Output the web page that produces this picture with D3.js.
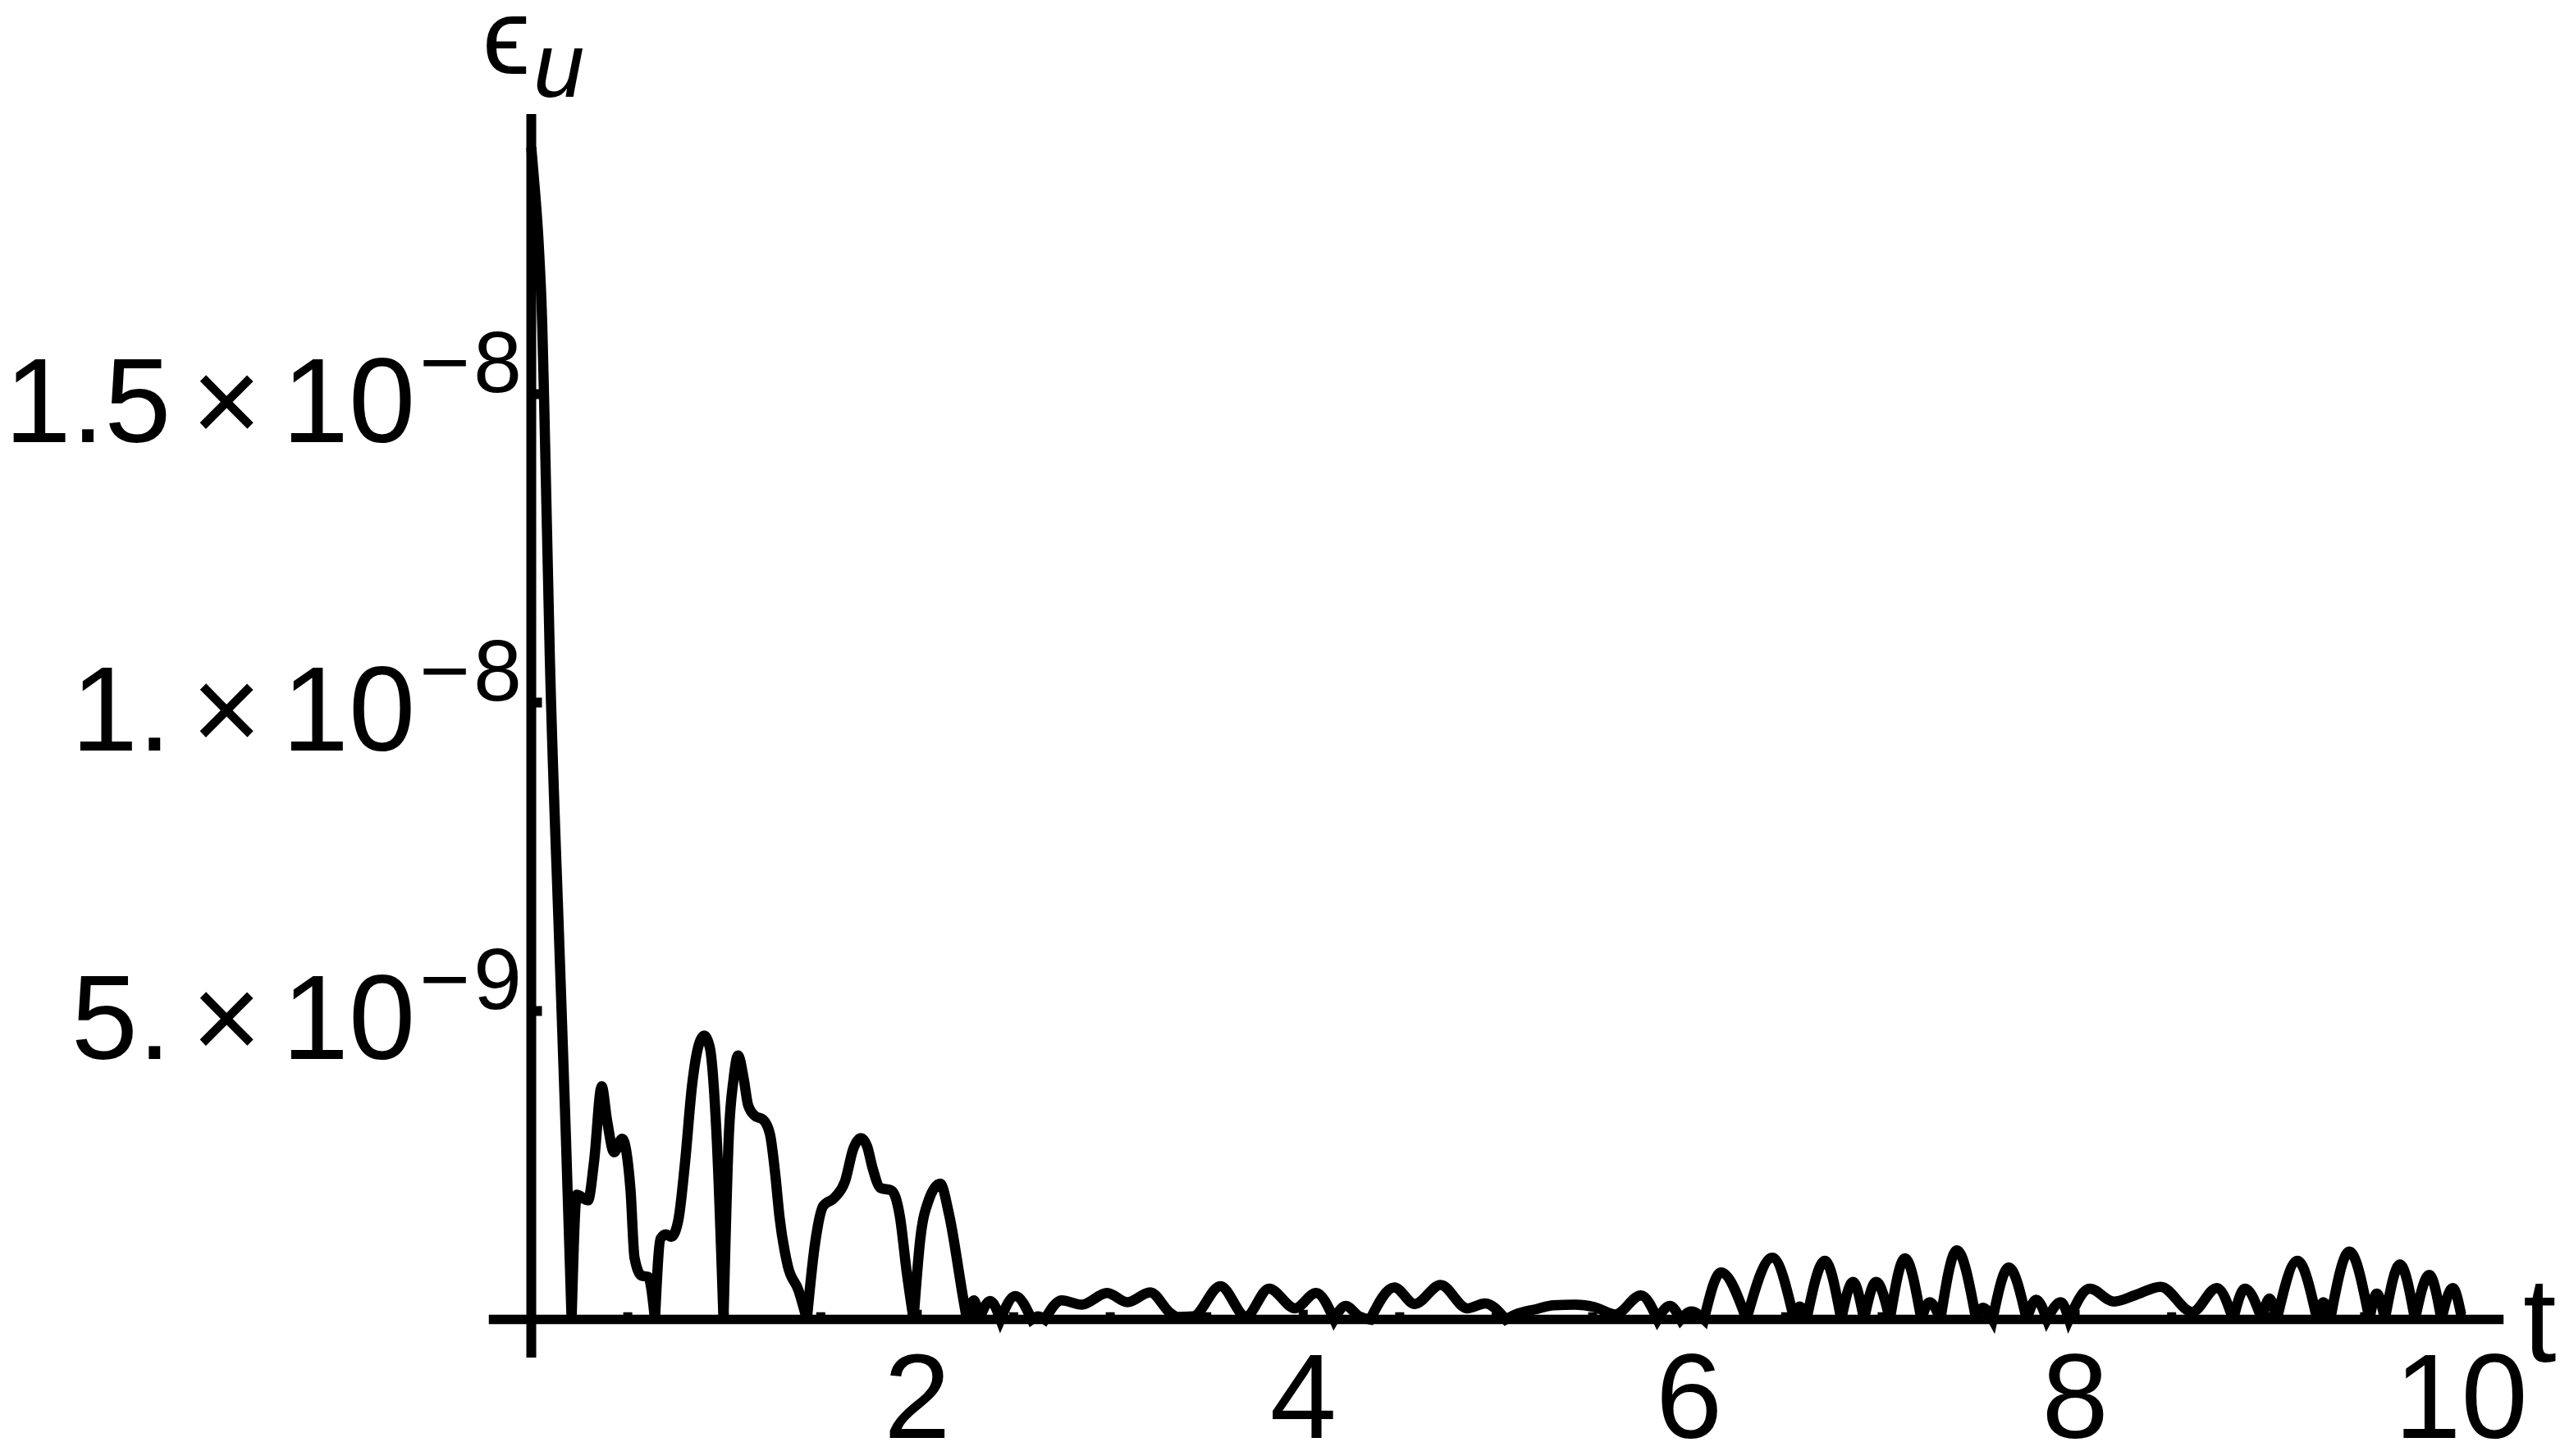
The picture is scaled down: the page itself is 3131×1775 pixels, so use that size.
<!DOCTYPE html>
<html><head><meta charset="utf-8">
<script src="https://cdn.jsdelivr.net/npm/d3@7"></script>
<style>body{margin:0;background:#fff}svg{display:block}</style>
</head><body>
<svg id="chart" width="3131" height="1775"></svg>
<script>
// ---- data (t, error in units of 1e-9) ----
const tValues = [
 0, 0.019, 0.039, 0.057, 0.068, 0.096, 0.145, 0.179, 0.209,
 0.236, 0.294, 0.325, 0.365, 0.393, 0.429, 0.471, 0.514, 0.535, 0.571, 0.606, 0.641,
 0.670, 0.698, 0.726, 0.762, 0.797, 0.833, 0.868, 0.896, 0.925, 0.960, 0.996,
 1.024, 1.048, 1.071, 1.102, 1.123, 1.159, 1.201, 1.237, 1.265, 1.286, 1.329, 1.385, 1.428,
 1.470, 1.513, 1.570, 1.626, 1.669, 1.708, 1.740, 1.768, 1.810, 1.867, 1.910, 1.945, 1.981,
 2.016, 2.059, 2.119, 2.165, 2.236, 2.257,
 2.293, 2.321, 2.378, 2.431, 2.508, 2.593, 2.627, 2.661,
 2.749, 2.852, 2.984, 3.089, 3.207, 3.313, 3.35, 3.43, 3.571, 3.703, 3.823, 3.958, 4.067, 4.160,
 4.220, 4.291, 4.347,
 4.472, 4.578, 4.712, 4.850, 4.943, 5.049,
 5.100, 5.212, 5.297, 5.410, 5.510, 5.616, 5.750, 5.836,
 5.900, 5.956, 6.011, 6.077, 6.165, 6.297, 6.431, 6.544, 6.572, 6.608,
 6.703, 6.788, 6.849, 6.906, 6.969, 7.040, 7.118, 7.203, 7.246, 7.302,
 7.387, 7.487, 7.522, 7.572, 7.656, 7.749, 7.798, 7.854, 7.926, 7.968,
 8.076, 8.200, 8.316, 8.443, 8.607, 8.734, 8.819, 8.880, 8.968, 9.007, 9.045,
 9.152, 9.254, 9.286, 9.322, 9.421, 9.525, 9.563, 9.605, 9.683, 9.761, 9.835, 9.898, 9.957, 10.0
];
const errValues = [
 19.0, 18.3, 17.4, 16.1, 14.7, 10.75, 6.1, 3.0, 0,
 2.02, 1.93, 2.55, 3.78, 3.22, 2.71, 2.93, 2.11, 1.0, 0.71, 0.69, 0,
 1.31, 1.38, 1.34, 1.61, 2.55, 3.79, 4.45, 4.60, 4.41, 3.0, 0,
 3.0, 3.89, 4.28, 3.88, 3.48, 3.30, 3.24, 3.0, 2.33, 1.67, 0.87, 0.47, 0,
 1.22, 1.84, 1.97, 2.24, 2.77, 2.94, 2.81, 2.46, 2.13, 2.09, 1.67, 0.78, 0,
 1.31, 1.93, 2.20, 1.70, 0.38, 0,
 0.31, 0, 0.30, 0, 0.38, 0, 0.05, 0,
 0.31, 0.24, 0.43, 0.28, 0.44, 0.10, 0.04, 0.05, 0.54, 0.05, 0.50, 0.18, 0.43, 0,
 0.22, 0.05, 0,
 0.52, 0.25, 0.56, 0.18, 0.26, 0,
 0.08, 0.17, 0.23, 0.24, 0.20, 0.08, 0.39, 0,
 0.22, 0, 0.13, 0, 0.76, 0, 1.0, 0, 0.21, 0,
 0.95, 0, 0.61, 0, 0.61, 0, 0.99, 0, 0.28, 0,
 1.12, 0, 0.19, 0, 0.84, 0, 0.32, 0, 0.28, 0,
 0.50, 0.29, 0.40, 0.53, 0.12, 0.51, 0, 0.50, 0, 0.34, 0,
 0.95, 0, 0.28, 0, 1.10, 0, 0.42, 0, 0.89, 0, 0.72, 0, 0.51, 0.08
];
const errUnit = 1e-9;

const xTickValues = [2, 4, 6, 8, 10];
const xTickLabels = ["2", "4", "6", "8", "10"];
const xMinorTickValues = [0.5,1,1.5,2,2.5,3,3.5,4,4.5,5,5.5,6,6.5,7,7.5,8,8.5,9,9.5,10];
const yTickValues = [5e-9, 1e-8, 1.5e-8];
const yTickMantissas = ["5.", "1.", "1.5"];
const yTickExponents = ["\u22129", "\u22128", "\u22128"];
const xAxisRange = [-0.22, 10.22];
const yAxisRange = [-0.62e-9, 1.954e-8];

// ---- scales ----
const x = d3.scaleLinear().domain([0, 10]).range([647.5, 2999.5]);
const y = d3.scaleLinear().domain([0, 5e-9]).range([1608.5, 1232.5]);

const svg = d3.select("#chart");
svg.append("rect").attr("width", 3131).attr("height", 1775).attr("fill", "#fff");

const FONT = "'Liberation Sans', Arial, Helvetica, sans-serif";
const axisW = 11.5;

// axes
const gAx = svg.append("g").attr("stroke", "#000").attr("stroke-linecap", "butt");
gAx.append("line").attr("x1", x(xAxisRange[0])).attr("x2", x(xAxisRange[1]))
   .attr("y1", y(0)).attr("y2", y(0)).attr("stroke-width", axisW);
gAx.append("line").attr("x1", x(0)).attr("x2", x(0))
   .attr("y1", y(yAxisRange[1])).attr("y2", y(yAxisRange[0])).attr("stroke-width", 12);

// x ticks (short, upward)
gAx.selectAll("line.xm").data(xMinorTickValues).join("line").attr("class", "xm")
  .attr("x1", d => x(d)).attr("x2", d => x(d))
  .attr("y1", y(0)).attr("y2", d => y(0) - axisW / 2 - (xTickValues.includes(d) ? 6 : 3))
  .attr("stroke-width", 11);
// y major ticks (to the right)
gAx.selectAll("line.ym").data(yTickValues).join("line").attr("class", "ym")
  .attr("x1", x(0)).attr("x2", x(0) + 13)
  .attr("y1", d => y(d)).attr("y2", d => y(d)).attr("stroke-width", 12);

// ---- curve: smooth arches joined at zeros with sharp corners ----
const pts = tValues.map((t, i) => [x(t), y(errValues[i] * errUnit)]);
const segs = [];
let cur = [pts[0]];
for (let i = 1; i < pts.length; i++) {
  cur.push(pts[i]);
  if (errValues[i] === 0 && i < pts.length - 1) { segs.push(cur); cur = [pts[i]]; }
}
segs.push(cur);
const lineGen = d3.line().curve(d3.curveMonotoneX);
const pathD = segs.map((s, k) => {
  const p = lineGen(s);
  return k === 0 ? p : p.replace(/^M[\d.,\-]+/, "");
}).join("");
svg.append("path").attr("d", pathD).attr("fill", "none").attr("stroke", "#000")
  .attr("stroke-width", 12.5).attr("stroke-linejoin", "miter").attr("stroke-miterlimit", 3);

// ---- x tick labels ----
svg.append("g").selectAll("text").data(xTickValues).join("text")
  .attr("x", d => x(d)).attr("y", 1753)
  .attr("text-anchor", "middle").attr("font-family", FONT).attr("font-size", 146)
  .text((d, i) => xTickLabels[i]);

// ---- y tick labels ----
const gy = svg.append("g");
yTickValues.forEach((v, i) => {
  const t = gy.append("text").attr("x", 636).attr("y", y(v) + 58)
    .attr("text-anchor", "end").attr("font-family", FONT).attr("font-size", 146);
  t.append("tspan").text(yTickMantissas[i]);
  t.append("tspan").attr("dx", 25).text("\u00D7");
  t.append("tspan").attr("dx", 25).text("10");
  t.append("tspan").attr("dx", 5).attr("dy", -61).attr("font-size", 106).text(yTickExponents[i][0]);
  t.append("tspan").attr("dx", 4).attr("font-size", 106).text(yTickExponents[i].slice(1));
});

// ---- axis labels ----
svg.append("text").attr("x", 588).attr("y", 90).attr("font-family", FONT)
  .attr("font-size", 132).text("\u03F5");
svg.append("text").attr("x", 650).attr("y", 118).attr("font-family", FONT)
  .attr("font-size", 112).attr("font-style", "italic").text("u");
svg.append("text").attr("x", 3075).attr("y", 1660).attr("font-family", FONT)
  .attr("font-size", 146).text("t");
</script>
</body></html>
